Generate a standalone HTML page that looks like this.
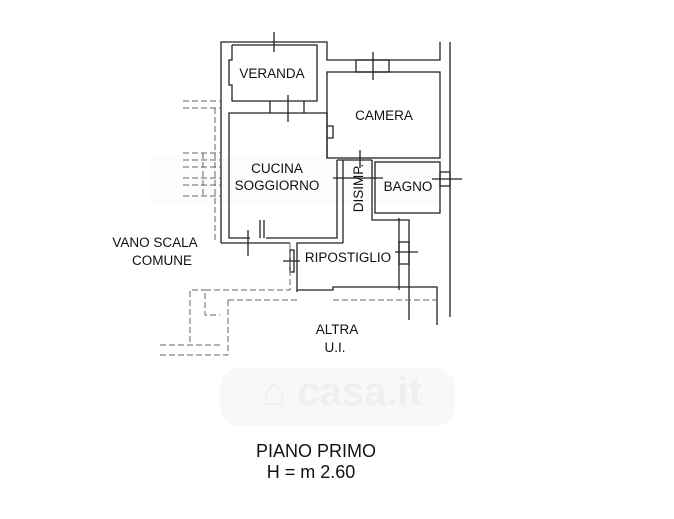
<!DOCTYPE html>
<html><head><style>
html,body{margin:0;padding:0;background:#fff;}
svg{display:block;}
text{font-family:"Liberation Sans",sans-serif;fill:#111;}
</style></head><body>
<svg width="674" height="519" viewBox="0 0 674 519">
<rect width="674" height="519" fill="#fff"/>
<!-- watermark -->
<rect x="220" y="368" width="235" height="58" rx="20" fill="#f8f8f8"/>
<text x="342" y="405" font-size="40" font-weight="bold" style="fill:#efefef" text-anchor="middle">⌂ casa.it</text>
<rect x="150" y="155" width="290" height="50" fill="#fcfcfc"/>
<g stroke="#222" stroke-width="1.3" fill="none">
<polyline points="221,243 221,42 327,42 327,60 440,60 440,42"/>
<line x1="450" y1="42" x2="450" y2="317"/>
<polyline points="232,45 317,45 317,101 232,101 232,85 229,85 229,60 232,60 232,45"/>
<line x1="270" y1="101" x2="270" y2="113"/>
<line x1="304" y1="101" x2="304" y2="113"/>
<line x1="288" y1="95" x2="288" y2="122"/>
<line x1="274" y1="32" x2="274" y2="52"/>
<polyline points="250,238 229,238 229,113 327,113 327,158"/>
<polyline points="266,238 337,238 337,160"/>
<line x1="264" y1="220" x2="264" y2="238"/>
<line x1="260" y1="220" x2="260" y2="238"/>
<line x1="248" y1="230" x2="248" y2="256"/>
<rect x="327" y="72" width="113" height="86"/>
<polyline points="327,126 333,126 333,138 327,138"/>
<rect x="356" y="60" width="33" height="12"/>
<line x1="373" y1="52" x2="373" y2="80"/>
<line x1="337" y1="160" x2="372" y2="160"/>
<line x1="343" y1="160" x2="343" y2="243"/>
<polyline points="372,160 372,220 409,220 409,320"/>
<rect x="375" y="162" width="65" height="51"/>
<line x1="360" y1="150" x2="360" y2="168"/>
<line x1="333" y1="178" x2="383" y2="178"/>
<rect x="440" y="172" width="10" height="14"/>
<line x1="432" y1="179" x2="462" y2="179"/>
<polyline points="221,243 290,243"/>
<polyline points="297,292 297,243 343,243"/>
<polyline points="297,290 333,290 333,287 437,287 437,325"/>
<line x1="399" y1="218" x2="399" y2="290"/>
<rect x="399" y="242" width="10" height="22"/>
<line x1="395" y1="252" x2="418" y2="252"/>
<rect x="290" y="250" width="4" height="22"/>
<line x1="283" y1="261" x2="300" y2="261"/>
</g>
<g stroke="#666" stroke-width="1" fill="none" stroke-dasharray="6,3">
<line x1="183" y1="101" x2="221" y2="101"/>
<line x1="183" y1="108" x2="221" y2="108"/>
<line x1="183" y1="153" x2="221" y2="153"/>
<line x1="183" y1="160" x2="221" y2="160"/>
<line x1="183" y1="167" x2="221" y2="167"/>
<line x1="183" y1="178" x2="221" y2="178"/>
<line x1="183" y1="185" x2="221" y2="185"/>
<line x1="183" y1="196" x2="221" y2="196"/>
<line x1="203" y1="153" x2="203" y2="196"/>
<line x1="215" y1="108" x2="215" y2="240"/>
<polyline points="290,243 290,290 205,290 205,315 220,315"/>
<polyline points="190,342 190,290 205,290"/>
<polyline points="228,300 228,355"/>
<polyline points="228,300 297,300"/>
<polyline points="333,300 437,300"/>
<line x1="160" y1="345" x2="220" y2="345"/>
<line x1="160" y1="355" x2="228" y2="355"/>
</g>
<g font-size="13.5" text-anchor="middle">
<text x="272" y="78">VERANDA</text>
<text x="384" y="120">CAMERA</text>
<text x="277" y="173">CUCINA</text>
<text x="277" y="190">SOGGIORNO</text>
<text x="408" y="191">BAGNO</text>
<text x="348" y="262">RIPOSTIGLIO</text>
<text x="155" y="247">VANO SCALA</text>
<text x="162" y="265">COMUNE</text>
<text x="337" y="334">ALTRA</text>
<text x="335" y="352">U.I.</text>
<text transform="translate(363,188) rotate(-90)">DISIMP.</text>
</g>
<g font-size="18" text-anchor="middle">
<text x="316" y="457">PIANO PRIMO</text>
<text x="311" y="478">H = m 2.60</text>
</g>
</svg>
</body></html>
